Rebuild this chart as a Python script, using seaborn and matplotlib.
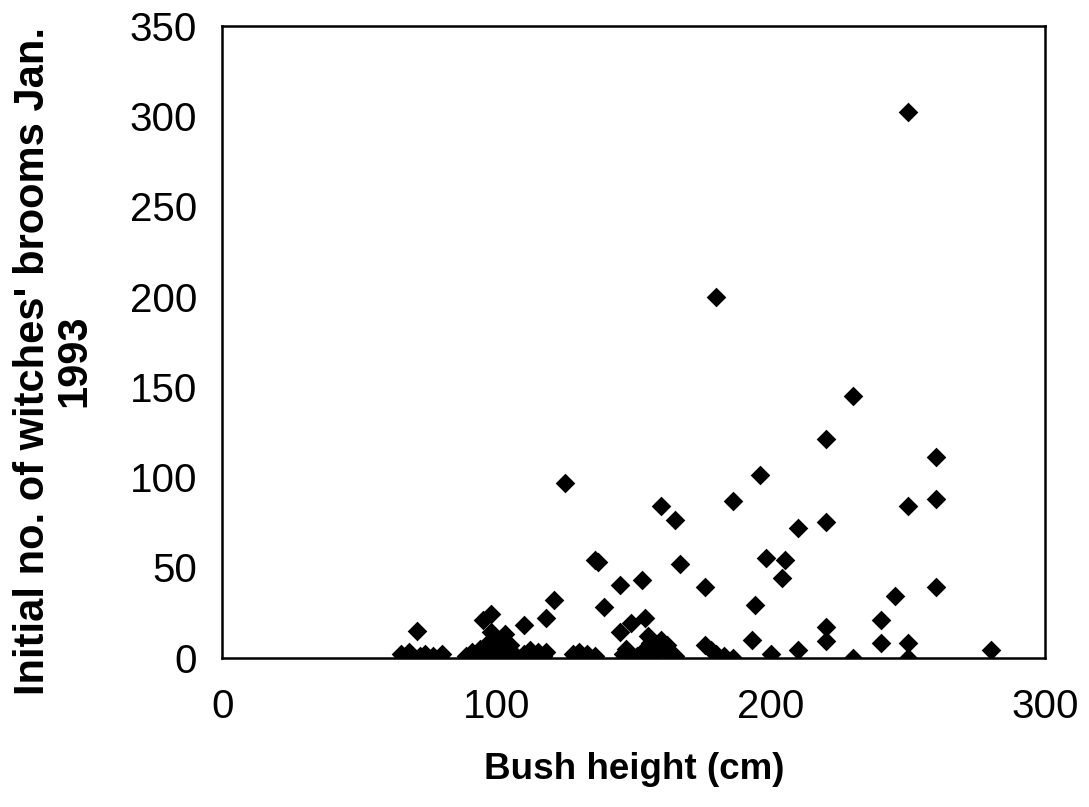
import pandas as pd
import seaborn as sns
import matplotlib.pyplot as plt

# bush height (cm) and initial number of witches' brooms
height = [65, 68, 71, 72, 74, 77, 80,
          89, 91, 93, 94, 95, 96, 97, 98, 98, 99, 100, 100, 101, 102, 103, 104, 105,
          107, 110, 110, 112, 113, 115, 117, 118, 118, 121, 125,
          128, 130, 133, 136, 136, 137, 139, 145, 145, 147, 146, 149, 151, 153, 154,
          153, 155, 156, 157, 159, 160, 160, 162, 163, 165, 165, 167,
          176, 176, 178, 180, 180, 183, 186, 186, 193, 194, 196, 198, 200, 204, 205,
          210, 210, 220, 220, 220, 220, 230, 230, 240, 240, 245, 250, 250, 250, 250,
          260, 260, 260, 280]
brooms = [2, 3, 15, 1, 2, 1, 2,
          1, 3, 2, 5, 21, 1, 8, 24, 14, 4, 10, 0, 6, 2, 13, 3, 7,
          1, 18, 2, 4, 1, 3, 1, 22, 3, 32, 97,
          2, 3, 2, 1, 54, 53, 28, 40, 14, 5, 2, 19, 1, 43, 22,
          3, 12, 8, 1, 4, 10, 84, 7, 2, 1, 76, 52,
          39, 7, 4, 200, 2, 1, 0, 87, 10, 29, 101, 55, 2, 44, 54,
          72, 4, 121, 75, 17, 9, 145, 0, 21, 8, 34, 302, 84, 8, 0,
          111, 88, 39, 4]

x_ticks = [0, 100, 200, 300]
y_ticks = [0, 50, 100, 150, 200, 250, 300, 350]

df = pd.DataFrame({"height": height, "brooms": brooms})

sns.set_style("white")
plt.rcParams["font.family"] = ["Liberation Sans", "DejaVu Sans"]
plt.rcParams["text.color"] = "black"
plt.rcParams["xtick.color"] = "black"
plt.rcParams["ytick.color"] = "black"
plt.rcParams["axes.labelcolor"] = "black"

fig = plt.figure(figsize=(10.89, 8.07), dpi=100)
ax = fig.add_axes([0.204, 0.185, 0.756, 0.783])

sns.scatterplot(data=df, x="height", y="brooms", ax=ax, marker="D",
                color="black", s=100, linewidth=0)

ax.set_xlim(0, 300)
ax.set_ylim(0, 350)
ax.set_xticks(x_ticks)
ax.set_yticks(y_ticks)
ax.tick_params(axis="both", labelsize=29, length=8, width=1,
               direction="out", pad=10)
ax.tick_params(axis="both", color="#888888")
ax.tick_params(axis="x", pad=14)
for s in ax.spines.values():
    s.set_color("black")
    s.set_linewidth(1.8)

ax.set_xlabel("Bush height (cm)", fontsize=26.5, fontweight="bold")
ax.set_ylabel("Initial no. of witches' brooms Jan.\n1993", fontsize=30,
              fontweight="bold", linespacing=1.05)
ax.xaxis.set_label_coords(0.5, -0.15)
ax.yaxis.set_label_coords(-0.155, 0.47)

fig.savefig("out.png", dpi=100)
